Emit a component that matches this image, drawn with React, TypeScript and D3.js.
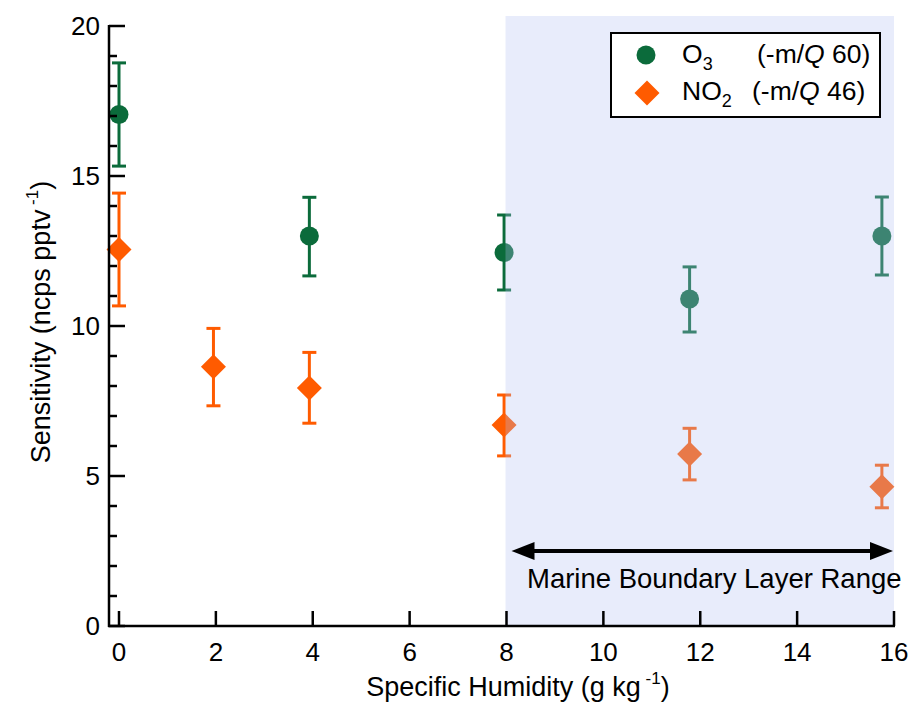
import React from "react";
import { scaleLinear, range, symbol, symbolCircle } from "d3";

const humidityO3 = [0, 3.93, 7.95, 11.78, 15.75];
const o3Values = [17.05, 13.0, 12.45, 10.9, 13.0];
const o3Low = [15.33, 11.67, 11.2, 9.8, 11.7];
const o3High = [18.77, 14.29, 13.7, 11.97, 14.3];

const humidityNO2 = [0, 1.95, 3.93, 7.95, 11.78, 15.75];
const no2Values = [12.55, 8.64, 7.93, 6.7, 5.73, 4.64];
const no2Low = [10.67, 7.34, 6.76, 5.67, 4.87, 3.94];
const no2High = [14.43, 9.92, 9.12, 7.7, 6.59, 5.36];

const xTicks = [0, 2, 4, 6, 8, 10, 12, 14, 16];
const yTicks = [0, 5, 10, 15, 20];
const mblRange = [8, 16];

const GREEN = "#0b6b3b";
const ORANGE = "#ff5b00";
const FONT = "'Liberation Sans', Arial, sans-serif";

export default function App() {
  const width = 910;
  const height = 703;
  const x = scaleLinear().domain([0, 16]).range([119, 894]);
  const y = scaleLinear().domain([0, 20]).range([626, 26]);
  const axisX = 109;

  const circlePath = symbol().type(symbolCircle).size(Math.PI * 9.5 * 9.5)();
  const diamond = (cx: number, cy: number, r: number) =>
    `M${cx},${cy - r}L${cx + r},${cy}L${cx},${cy + r}L${cx - r},${cy}Z`;

  const errBar = (cx: number, lo: number, hi: number, color: string, key: string) => (
    <g key={key} stroke={color} strokeWidth={3} fill="none">
      <line x1={cx} x2={cx} y1={y(lo)} y2={y(hi)} />
      <line x1={cx - 7} x2={cx + 7} y1={y(lo)} y2={y(lo)} />
      <line x1={cx - 7} x2={cx + 7} y1={y(hi)} y2={y(hi)} />
    </g>
  );

  const arrowY = 551;
  const ax0 = x(mblRange[0]) + 5;
  const ax1 = x(mblRange[1]) - 1;

  return (
    <svg
      width={width}
      height={height}
      style={{ position: "absolute", left: 0, top: 0, background: "#fff" }}
      fontFamily={FONT}
    >
      {/* NO2 series */}
      {humidityNO2.map((h, i) => errBar(x(h), no2Low[i], no2High[i], ORANGE, "ne" + i))}
      {humidityNO2.map((h, i) => (
        <path key={"nd" + i} d={diamond(x(h), y(no2Values[i]), 12.5)} fill={ORANGE} />
      ))}

      {/* O3 series */}
      {humidityO3.map((h, i) => errBar(x(h), o3Low[i], o3High[i], GREEN, "oe" + i))}
      {humidityO3.map((h, i) => (
        <path
          key={"oc" + i}
          d={circlePath as string}
          transform={`translate(${x(h)},${y(o3Values[i])})`}
          fill={GREEN}
        />
      ))}

      {/* marine boundary layer shading, drawn over the markers */}
      <rect
        x={x(mblRange[0]) - 1}
        y={16}
        width={x(mblRange[1]) - x(mblRange[0]) + 1}
        height={626 - 16}
        fill="rgb(178,192,242)"
        fillOpacity={0.3}
      />

      {/* axes */}
      <g stroke="#000" strokeWidth={2.5}>
        <line x1={axisX} x2={axisX} y1={y(20) - 1} y2={y(0) + 1} />
        <line x1={axisX - 1} x2={x(16) + 1} y1={y(0)} y2={y(0)} />
        {range(0, 21).map((v) => (
          <line
            key={"yt" + v}
            x1={axisX}
            x2={axisX + (v % 5 === 0 ? 16 : 8)}
            y1={y(v)}
            y2={y(v)}
          />
        ))}
        {xTicks.map((v) => (
          <line key={"xt" + v} x1={x(v)} x2={x(v)} y1={y(0)} y2={y(0) - 15} />
        ))}
      </g>
      {yTicks.map((v) => (
        <text key={"yl" + v} x={100} y={y(v) + 9} textAnchor="end" fontSize={26}>
          {v}
        </text>
      ))}
      {xTicks.map((v) => (
        <text key={"xl" + v} x={x(v)} y={661} textAnchor="middle" fontSize={26}>
          {v}
        </text>
      ))}

      {/* axis titles */}
      <text x={518} y={696} textAnchor="middle" fontSize={27}>
        Specific Humidity (g kg
        <tspan dy={-12} fontSize={17}> -1</tspan>
        <tspan dy={12}>)</tspan>
      </text>
      <text transform="translate(50,322) rotate(-90)" textAnchor="middle" fontSize={27}>
        Sensitivity (ncps pptv
        <tspan dy={-12} fontSize={17}> -1</tspan>
        <tspan dy={12}>)</tspan>
      </text>

      {/* arrow and label */}
      <line x1={ax0 + 18} x2={ax1 - 18} y1={arrowY} y2={arrowY} stroke="#000" strokeWidth={4} />
      <path d={`M${ax0},${arrowY}L${ax0 + 23},${arrowY - 9}L${ax0 + 23},${arrowY + 9}Z`} fill="#000" />
      <path d={`M${ax1},${arrowY}L${ax1 - 23},${arrowY - 9}L${ax1 - 23},${arrowY + 9}Z`} fill="#000" />
      <text x={527} y={588} fontSize={27.5}>
        Marine Boundary Layer Range
      </text>

      {/* legend */}
      <rect x={611} y={33} width={269} height={84} fill="#fff" stroke="#000" strokeWidth={2} />
      <path d={circlePath as string} transform="translate(646,55)" fill={GREEN} />
      <path d={diamond(647, 93, 12.5)} fill={ORANGE} />
      <text x={682} y={63} fontSize={26.5}>
        O<tspan dy={7} fontSize={18}>3</tspan>
      </text>
      <text x={757} y={63} fontSize={26.5}>
        (-m/<tspan fontStyle="italic">Q</tspan> 60)
      </text>
      <text x={682} y={100} fontSize={26.5}>
        NO<tspan dy={7} fontSize={18}>2</tspan>
      </text>
      <text x={752} y={100} fontSize={26.5}>
        (-m/<tspan fontStyle="italic">Q</tspan> 46)
      </text>
    </svg>
  );
}
